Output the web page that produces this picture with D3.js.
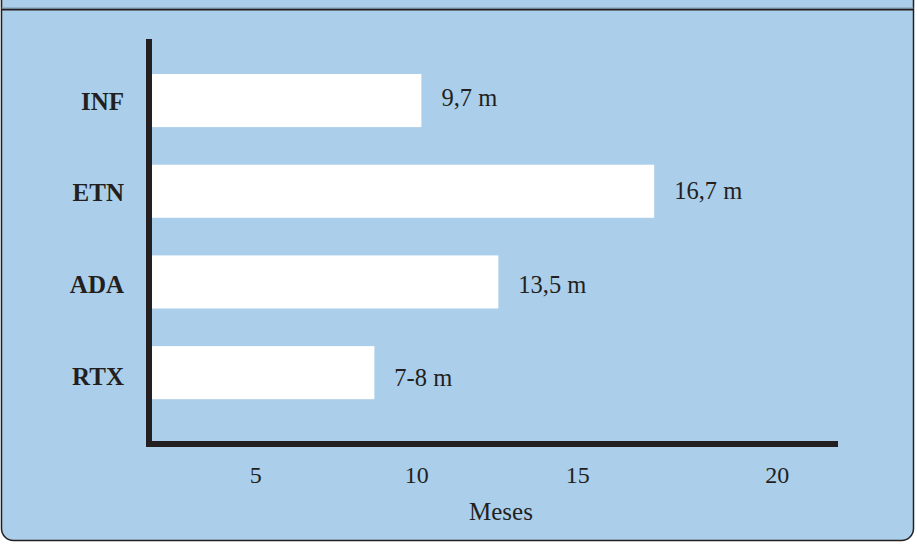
<!DOCTYPE html>
<html>
<head>
<meta charset="utf-8">
<script src="https://cdn.jsdelivr.net/npm/d3@7"></script>
<style>
html,body{margin:0;padding:0;background:#fff;}
svg{display:block;}
text{font-family:"Liberation Serif","Times New Roman",serif;fill:#231f20;}
</style>
</head>
<body>
<svg id="chart" width="917" height="544"></svg>
<script>
// Data
const categories = ["INF", "ETN", "ADA", "RTX"];
const values = [10.16, 17.39, 12.55, 8.70];           // bar lengths as read against the axis
const valueLabels = ["9,7 m", "16,7 m", "13,5 m", "7-8 m"];
const tickPositions = [5, 10, 15, 21.2];               // where the tick labels sit on the axis
const tickLabels = ["5", "10", "15", "20"];
const axisTitle = "Meses";

const W = 917, H = 544;
const svg = d3.select("#chart");

// Frame
svg.append("rect")
  .attr("x", 1.5).attr("y", -30).attr("width", W - 5).attr("height", H - 2 + 30 - 1.5)
  .attr("rx", 12).attr("ry", 12)
  .attr("fill", "#abcfea").attr("stroke", "#231f20").attr("stroke-width", 1.5);
svg.append("line")
  .attr("x1", 1.5).attr("x2", W - 3.5).attr("y1", 9.5).attr("y2", 9.5)
  .attr("stroke", "#231f20").attr("stroke-width", 2);
svg.append("line")
  .attr("x1", 1.5).attr("x2", W - 3.5).attr("y1", 8).attr("y2", 8)
  .attr("stroke", "#7f96aa").attr("stroke-width", 1);

// Scales
const x = d3.scaleLinear().domain([1.7, 23.1]).range([149, 838]);
const y = d3.scaleBand().domain(categories).range([36.4, 436.8])
  .paddingInner(0.415).paddingOuter(0.415);
// label rows are spaced slightly wider than the bars in the original
const yValLab = d3.scalePoint().domain(categories).range([106, 386]);
const yCatLab = d3.scalePoint().domain(categories).range([109.5, 385]);

const data = categories.map((c, i) => ({c, v: values[i], label: valueLabels[i]}));
const x0 = x(x.domain()[0]);

// Bars
svg.append("g").selectAll("rect").data(data).join("rect")
  .attr("x", x0 + 3)
  .attr("y", d => y(d.c))
  .attr("width", d => x(d.v) - x0 - 3)
  .attr("height", y.bandwidth())
  .attr("fill", "#ffffff");

// Value labels
svg.append("g").selectAll("text").data(data).join("text")
  .attr("x", d => x(d.v) + 20)
  .attr("y", d => yValLab(d.c))
  .attr("font-size", 24.5)
  .text(d => d.label);

// Category labels
svg.append("g").selectAll("text").data(data).join("text")
  .attr("x", 124)
  .attr("y", d => yCatLab(d.c))
  .attr("text-anchor", "end")
  .attr("font-size", 25)
  .attr("font-weight", "bold")
  .text(d => d.c);

// Axes lines
const axisBottomY = 444;
svg.append("line")
  .attr("x1", x0).attr("x2", x0).attr("y1", 39).attr("y2", axisBottomY + 3)
  .attr("stroke", "#231f20").attr("stroke-width", 6);
svg.append("line")
  .attr("x1", x0 - 3).attr("x2", x.range()[1]).attr("y1", axisBottomY).attr("y2", axisBottomY)
  .attr("stroke", "#231f20").attr("stroke-width", 6);

// Tick labels via d3 axis (no tick lines / domain)
const xAxis = d3.axisBottom(x).tickValues(tickPositions)
  .tickFormat((d, i) => tickLabels[i]).tickSize(0).tickPadding(0);
const gx = svg.append("g").attr("transform", `translate(0,${axisBottomY})`).call(xAxis);
gx.select(".domain").remove();
gx.selectAll("text")
  .attr("font-family", "Liberation Serif, Times New Roman, serif")
  .attr("font-size", 24).attr("fill", "#231f20")
  .attr("dy", null).attr("y", 39);

// Axis title
svg.append("text")
  .attr("x", 501).attr("y", 520)
  .attr("text-anchor", "middle").attr("font-size", 25)
  .text(axisTitle);
</script>
</body>
</html>
